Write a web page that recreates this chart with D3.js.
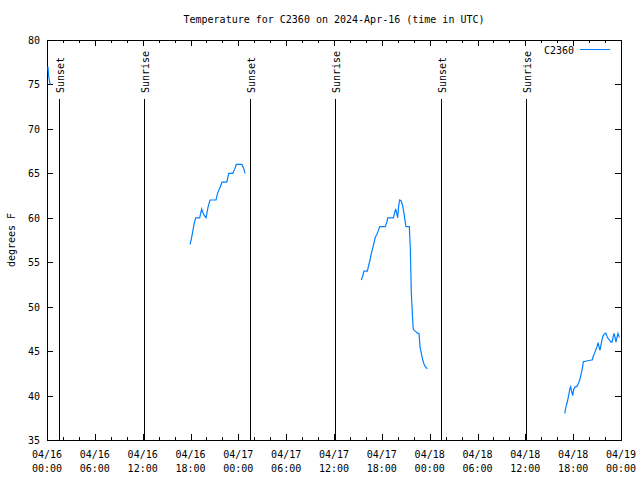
<!DOCTYPE html>
<html><head><meta charset="utf-8">
<script src="https://cdn.jsdelivr.net/npm/d3@7"></script>
<style>body{margin:0;background:#fff}svg{display:block}text{font-family:"DejaVu Sans Mono",monospace;font-size:10px;fill:#000}</style>
</head><body><svg id="c" width="640" height="480"></svg>
<script>
// hours since 2024-04-16 00:00 UTC; null marks a gap
const hours = [0.12,0.2,0.35,0.45,null,
17.95,18.1,18.25,18.45,18.65,19.15,19.4,19.55,19.7,19.95,20.2,20.45,21.2,21.35,21.5,21.7,21.95,22.55,22.8,23.3,23.55,23.75,24.45,24.65,24.85,null,
39.43,39.6,39.76,40.18,40.35,40.52,40.68,40.86,41.02,41.18,41.36,41.56,41.73,42.44,42.65,42.74,43.44,43.62,43.74,43.87,43.99,44.12,44.24,44.44,44.62,44.78,44.95,45.03,45.45,45.57,45.7,45.87,45.95,46.5,46.66,46.79,46.95,47.13,47.29,47.45,47.7,null,
64.76,64.94,65.1,65.27,65.44,65.57,65.69,65.82,65.94,66.07,66.27,66.44,66.57,66.69,66.82,66.94,67.07,67.2,67.27,68.28,68.4,68.53,68.7,68.87,68.99,69.12,69.24,69.37,69.49,69.62,69.74,69.99,70.12,70.28,70.75,70.87,71.0,71.12,71.25,71.37,71.5,71.62,71.79];
const temps = [77,76,75.2,75,null,
57,57.6,58.3,59.3,60,60,61,60.6,60.3,60,61.2,62,62,62.6,63,63.4,64,64,65,65,65.5,66,66,65.6,65,null,
53,53.45,54,54,54.65,55.25,56,56.6,57.2,57.8,58.1,58.55,59,59,59.6,60,60,60.6,61,60.5,60,61.4,62,61.9,61.3,60.5,59.45,59,59,56.6,51.5,48.5,47.45,47,47,45.5,44.75,44,43.55,43.25,43,43,null,
38,38.75,39.3,40.05,40.7,41,40.45,40,40.7,41,41,41.2,41.45,41.75,42.2,42.7,43.3,43.8,44,44,44.45,44.8,45.2,45.5,45.95,45.5,45.1,45.7,46.25,46.7,47,47,46.55,46,46,46.55,47,46.55,46,46.55,47,46.55,46];
const sunEvents = ["Sunset","Sunrise","Sunset","Sunrise","Sunset","Sunrise"];
const sunHours = [1.5,12.15,25.45,36.1,49.4,60.1];
const yTicks = [35,40,45,50,55,60,65,70,75,80];
const title = "Temperature for C2360 on 2024-Apr-16 (time in UTC)";
const yLabel = "degrees F";
const seriesName = "C2360";

const t0 = Date.UTC(2024,3,16);
const toDate = h => new Date(t0 + h*3600e3);
const L=47,R=621,T=40,B=440;
const svg=d3.select("#c");
const x=d3.scaleUtc().domain([toDate(0),toDate(72)]).range([L,R]);
const y=d3.scaleLinear().domain([35,80]).range([B,T]);
const fmt=d3.utcFormat("%m/%d"), fmt2=d3.utcFormat("%H:%M");

const g=svg.append("g").attr("shape-rendering","crispEdges");
const allTicks=d3.range(0,73,2).map(toDate);
const major=d=>d.getUTCHours()%6===0;
allTicks.forEach(d=>{
  const len=major(d)?6:3, px=Math.round(x(d))+0.5;
  g.append("line").attr("x1",px).attr("x2",px).attr("y1",B).attr("y2",B-len).attr("stroke","#000");
  g.append("line").attr("x1",px).attr("x2",px).attr("y1",T).attr("y2",T+len).attr("stroke","#000");
});
d3.range(0,73,6).map(toDate).forEach(d=>{
  const t=svg.append("text").attr("x",x(d)).attr("text-anchor","middle");
  t.append("tspan").attr("x",x(d)).attr("y",458).text(fmt(d));
  t.append("tspan").attr("x",x(d)).attr("y",472).text(fmt2(d));
});
yTicks.forEach(v=>{
  const py=Math.round(y(v))+0.5;
  g.append("line").attr("x1",L).attr("x2",L+6).attr("y1",py).attr("y2",py).attr("stroke","#000");
  g.append("line").attr("x1",R).attr("x2",R-6).attr("y1",py).attr("y2",py).attr("stroke","#000");
  svg.append("text").attr("x",40).attr("y",y(v)+4).attr("text-anchor","end").text(v);
});
// sun lines
sunHours.forEach((h,i)=>{
  const px=Math.round(x(toDate(h)))+0.5;
  g.append("line").attr("x1",px).attr("x2",px).attr("y1",99).attr("y2",B).attr("stroke","#000");
  svg.append("text").attr("transform",`translate(${px+4},93) rotate(-90)`).text(sunEvents[i]);
});
// border
g.append("rect").attr("x",L+0.5).attr("y",T+0.5).attr("width",R-L).attr("height",B-T).attr("fill","none").attr("stroke","#000");
// data
const pts=hours.map((h,i)=>({h,v:temps[i]}));
const line=d3.line().defined(d=>d.h!=null&&d.v!=null).x(d=>x(toDate(d.h))).y(d=>y(d.v));
svg.append("path").attr("d",line(pts)).attr("fill","none").attr("stroke","#0080ff").attr("stroke-width",1.2);
// legend
svg.append("text").attr("x",574).attr("y",54).attr("text-anchor","end").text(seriesName);
g.append("line").attr("x1",580).attr("x2",610).attr("y1",49.5).attr("y2",49.5).attr("stroke","#0080ff");
// title & y label
svg.append("text").attr("x",(L+R)/2).attr("y",23).attr("text-anchor","middle").text(title);
svg.append("text").attr("transform",`translate(15,${(T+B)/2}) rotate(-90)`).attr("text-anchor","middle").text(yLabel);
</script></body></html>
